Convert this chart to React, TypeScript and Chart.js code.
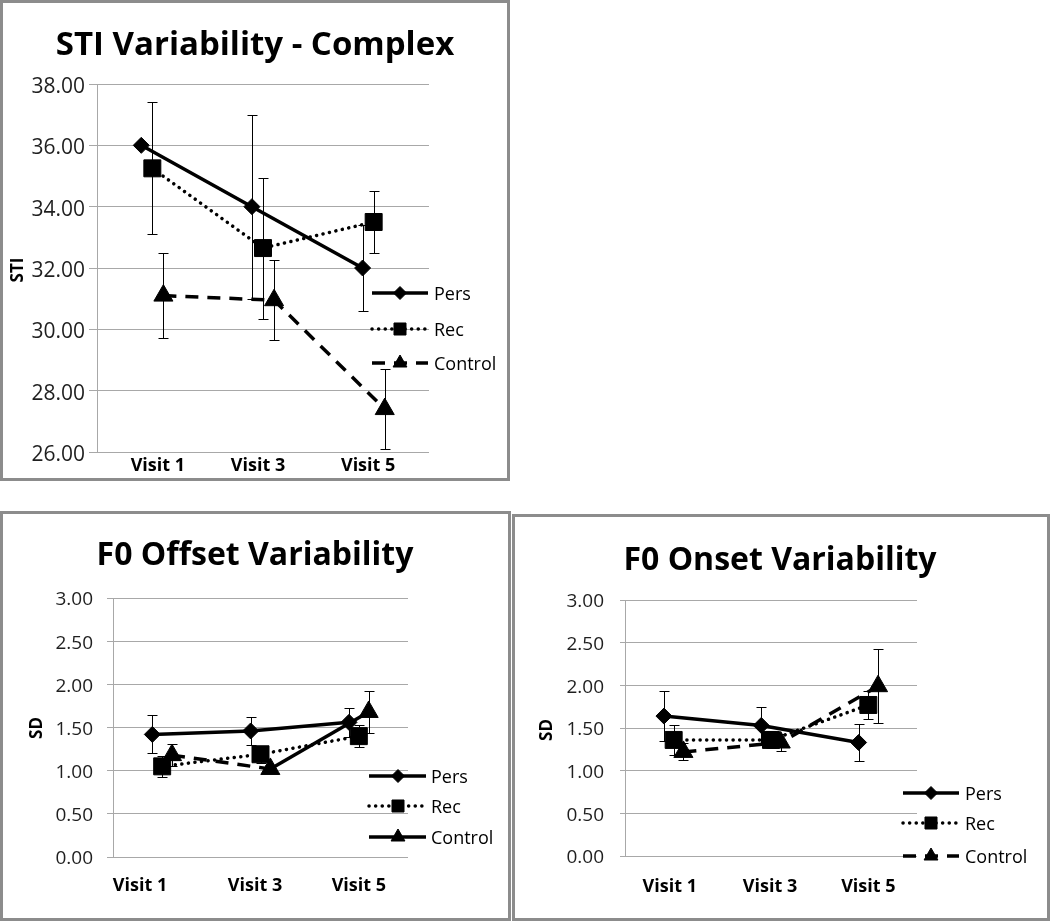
import React, { useEffect, useRef } from 'react';
import { Chart, registerables } from 'chart.js';
import { drawPoint } from 'chart.js/helpers';

Chart.register(...registerables);

// ---------- data ----------
const categories = ['Visit 1', 'Visit 3', 'Visit 5'];
const seriesNames = ['Pers', 'Rec', 'Control'];

// STI Variability - Complex
const stiPers = [36.0, 34.0, 32.0];
const stiPersErr = [0, 3.0, 1.4];
const stiRec = [35.25, 32.65, 33.5];
const stiRecErr = [2.15, 2.3, 1.0];
const stiControl = [31.1, 30.95, 27.4];
const stiControlErr = [1.38, 1.3, 1.3];
const stiAxis = { min: 26, max: 38, step: 2 };

// F0 Offset Variability
const offPers = [1.42, 1.46, 1.56];
const offPersErr = [0.22, 0.16, 0.17];
const offRec = [1.05, 1.19, 1.4];
const offRecErr = [0.12, 0.1, 0.13];
const offControl = [1.18, 1.02, 1.68];
const offControlErr = [0.13, 0.05, 0.24];
const offAxis = { min: 0, max: 3, step: 0.5 };

// F0 Onset Variability
const onPers = [1.64, 1.53, 1.33];
const onPersErr = [0.29, 0.22, 0.22];
const onRec = [1.36, 1.36, 1.77];
const onRecErr = [0.18, 0.1, 0.16];
const onControl = [1.22, 1.33, 1.99];
const onControlErr = [0.1, 0.1, 0.43];
const onAxis = { min: 0, max: 3, step: 0.5 };

// ---------- styles ----------
const FONT = '"Open Sans", "Liberation Sans", sans-serif';
const GRID = '#a8a8a8';
const LINE_W = 3.5;

const seriesStyles: any[] = [
  { pointStyle: 'rectRot', radius: 8, legendRadius: 6.5, dash: [], cap: 'butt', offset: -0.1 },
  { pointStyle: 'rect', radius: 12, legendRadius: 8.5, dash: [0.1, 6.5], cap: 'round', offset: 0 },
  { pointStyle: 'triangle', radius: 11, legendRadius: 8, dash: [13, 9], cap: 'butt', offset: 0.1 },
];

const panels: any[] = [
  {
    key: 'sti',
    title: 'STI Variability - Complex',
    yTitle: 'STI',
    values: [stiPers, stiRec, stiControl],
    errors: [stiPersErr, stiRecErr, stiControlErr],
    axis: stiAxis,
    box: { left: 0, top: 0, width: 510, height: 481 },
    plot: { left: 97, top: 84, right: 429, bottom: 452 },
    titleSize: 33, titleX: 255, titleY: 55,
    yTitleX: 18, yTitleY: 270,
    tickSize: 21, tickLength: 8, tickPadding: 4, tickOffset: 3,
    labelPadding: 5, labelPositions: [1.05, 1.955, 2.95],
    legend: { x0: 372, x1: 428, mx: 400, tx: 434, ys: [293, 329, 363] },
    segmentDash: null,
    legendDash: null,
  },
  {
    key: 'offset',
    title: 'F0 Offset Variability',
    yTitle: 'SD',
    values: [offPers, offRec, offControl],
    errors: [offPersErr, offRecErr, offControlErr],
    axis: offAxis,
    box: { left: 0, top: 511, width: 511, height: 410 },
    plot: { left: 113, top: 87, right: 408, bottom: 346 },
    titleSize: 32, titleX: 255, titleY: 54,
    yTitleX: 37, yTitleY: 217,
    tickSize: 19, tickLength: 6, tickPadding: 14, tickOffset: 2,
    labelPadding: 20, labelPositions: [0.775, 1.944, 3.0],
    legend: { x0: 369, x1: 426, mx: 398, tx: 431, ys: [265, 295, 326] },
    segmentDash: [null, null, [[13, 9], []]],
    legendDash: [null, null, []],
  },
  {
    key: 'onset',
    title: 'F0 Onset Variability',
    yTitle: 'SD',
    values: [onPers, onRec, onControl],
    errors: [onPersErr, onRecErr, onControlErr],
    axis: onAxis,
    box: { left: 512, top: 514, width: 538, height: 407 },
    plot: { left: 113, top: 86, right: 405, bottom: 342 },
    titleSize: 32, titleX: 268, titleY: 56,
    yTitleX: 35, yTitleY: 216,
    tickSize: 19, tickLength: 5, tickPadding: 16, tickOffset: 2,
    labelPadding: 22, labelPositions: [0.96, 1.99, 3.0],
    legend: { x0: 391, x1: 447, mx: 419, tx: 453, ys: [279, 309, 342] },
    segmentDash: null,
    legendDash: null,
  },
];

function makeDecor(p: any) {
  return {
    id: 'decor_' + p.key,
    beforeDatasetsDraw(chart: any) {
      const ctx = chart.ctx;
      const ys = chart.scales.y;
      ctx.save();
      ctx.strokeStyle = '#000';
      ctx.lineWidth = 1;
      ctx.setLineDash([]);
      chart.data.datasets.forEach((ds: any, di: number) => {
        const meta = chart.getDatasetMeta(di);
        meta.data.forEach((pt: any, i: number) => {
          const e = ds.errors[i];
          if (!e) return;
          const v = ds.data[i].y;
          const x = Math.round(pt.x) + 0.5;
          const yt = Math.round(ys.getPixelForValue(v + e)) + 0.5;
          const yb = Math.round(ys.getPixelForValue(v - e)) + 0.5;
          ctx.beginPath();
          ctx.moveTo(x, yt);
          ctx.lineTo(x, yb);
          ctx.moveTo(x - 5, yt);
          ctx.lineTo(x + 5, yt);
          ctx.moveTo(x - 5, yb);
          ctx.lineTo(x + 5, yb);
          ctx.stroke();
        });
      });
      ctx.restore();
    },
    afterDraw(chart: any) {
      const ctx = chart.ctx;
      ctx.save();
      ctx.fillStyle = '#000';
      ctx.font = `bold ${p.titleSize}px ${FONT}`;
      ctx.textAlign = 'center';
      ctx.textBaseline = 'alphabetic';
      ctx.fillText(p.title, p.titleX, p.titleY);

      ctx.save();
      ctx.translate(p.yTitleX, p.yTitleY);
      ctx.rotate(-Math.PI / 2);
      ctx.font = `bold 17px ${FONT}`;
      ctx.textAlign = 'center';
      ctx.textBaseline = 'middle';
      ctx.fillText(p.yTitle, 0, 0);
      ctx.restore();

      chart.data.datasets.forEach((ds: any, i: number) => {
        const st = seriesStyles[i];
        const y = p.legend.ys[i];
        const dash = p.legendDash && p.legendDash[i] ? p.legendDash[i] : st.dash;
        ctx.save();
        ctx.strokeStyle = '#000';
        ctx.lineWidth = LINE_W;
        ctx.lineCap = st.cap;
        ctx.setLineDash(dash);
        ctx.beginPath();
        ctx.moveTo(p.legend.x0, y);
        ctx.lineTo(p.legend.x1, y);
        ctx.stroke();
        ctx.setLineDash([]);
        ctx.lineCap = 'butt';
        ctx.fillStyle = '#000';
        ctx.lineWidth = 1;
        drawPoint(ctx, { pointStyle: st.pointStyle, rotation: 0, radius: st.legendRadius, borderWidth: 1 }, p.legend.mx, y);
        ctx.font = `18px ${FONT}`;
        ctx.textAlign = 'left';
        ctx.textBaseline = 'middle';
        ctx.fillText(ds.label, p.legend.tx, y + 1.5);
        ctx.restore();
      });
      ctx.restore();
    },
  };
}

function buildDatasets(p: any) {
  return p.values.map((vals: number[], si: number) => {
    const st = seriesStyles[si];
    const seg = p.segmentDash ? p.segmentDash[si] : null;
    const ds: any = {
      label: seriesNames[si],
      data: vals.map((v, i) => ({ x: i + 1 + st.offset, y: v })),
      errors: p.errors[si],
      borderColor: '#000',
      backgroundColor: '#000',
      borderWidth: LINE_W,
      borderDash: st.dash,
      borderCapStyle: st.cap,
      borderJoinStyle: 'round',
      pointStyle: st.pointStyle,
      pointRadius: st.radius,
      pointHoverRadius: st.radius,
      pointBackgroundColor: '#000',
      pointBorderColor: '#000',
      pointBorderWidth: 1,
      tension: 0,
      fill: false,
    };
    if (seg) {
      ds.segment = { borderDash: (c: any) => seg[c.p0DataIndex] };
    }
    return ds;
  });
}

function Panel({ p }: { p: any }) {
  const ref = useRef<HTMLCanvasElement>(null);
  useEffect(() => {
    const canvas = ref.current!;
    const { box, plot, axis } = p;
    const chart = new Chart(canvas, {
      type: 'line',
      data: { datasets: buildDatasets(p) },
      options: {
        animation: false,
        responsive: false,
        devicePixelRatio: 1,
        events: [],
        layout: { padding: { left: 0, top: plot.top, right: box.width - plot.right, bottom: 0 } },
        plugins: { legend: { display: false }, title: { display: false }, tooltip: { enabled: false } },
        scales: {
          x: {
            type: 'linear',
            min: 0.5,
            max: 3.5,
            afterFit: (s: any) => { s.height = box.height - plot.bottom; },
            afterBuildTicks: (s: any) => { s.ticks = p.labelPositions.map((v: number) => ({ value: v })); },
            ticks: {
              callback: (_v: any, i: number) => categories[i],
              font: { family: FONT, size: 18, weight: 'bold', lineHeight: 1 },
              color: '#000',
              padding: p.labelPadding,
              autoSkip: false,
              maxRotation: 0,
              minRotation: 0,
            },
            grid: { display: false, drawTicks: false },
            border: { display: false },
          },
          y: {
            type: 'linear',
            min: axis.min,
            max: axis.max,
            afterFit: (s: any) => { s.width = plot.left; },
            ticks: {
              stepSize: axis.step,
              callback: (v: any) => Number(v).toFixed(2),
              font: { family: FONT, size: p.tickSize, lineHeight: 1 },
              color: '#1f1f1f',
              padding: p.tickPadding,
              labelOffset: p.tickOffset,
            },
            grid: { color: GRID, lineWidth: 1, tickLength: p.tickLength, drawTicks: true },
            border: { display: true, color: GRID, width: 1 },
          },
        },
      } as any,
      plugins: [makeDecor(p)],
    });
    return () => chart.destroy();
  }, []);
  const { box } = p;
  return (
    <div style={{ position: 'absolute', left: box.left, top: box.top, width: box.width, height: box.height, background: '#fff' }}>
      <canvas ref={ref} width={box.width} height={box.height} style={{ display: 'block', width: box.width, height: box.height }} />
      <div style={{ position: 'absolute', left: 0, top: 0, width: box.width, height: box.height, border: '3px solid #8c8c8c', boxSizing: 'border-box', pointerEvents: 'none' }} />
    </div>
  );
}

export default function App() {
  return (
    <div style={{ position: 'absolute', left: 0, top: 0, width: 1050, height: 921, background: '#fff', overflow: 'hidden' }}>
      {panels.map((p) => <Panel key={p.key} p={p} />)}
    </div>
  );
}
